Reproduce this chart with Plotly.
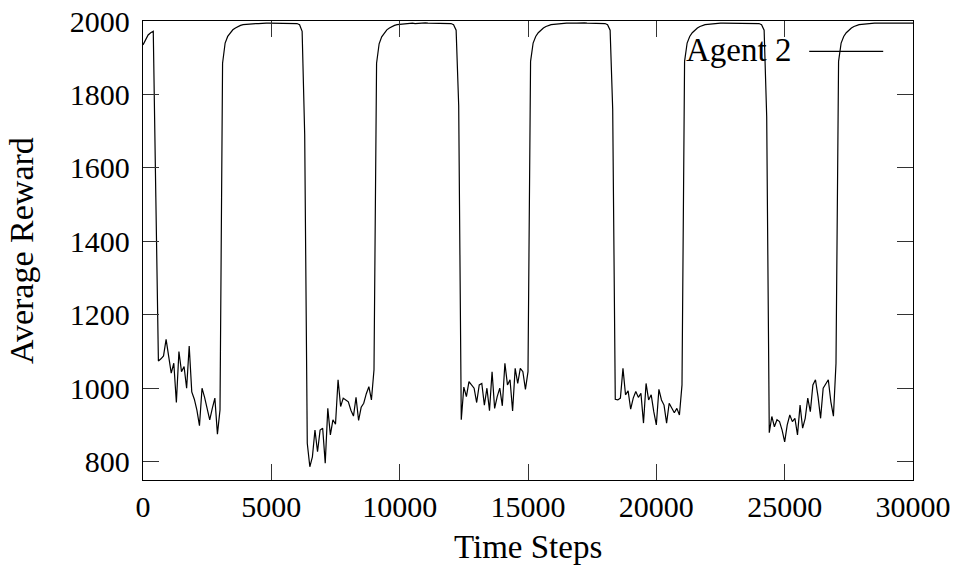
import plotly.graph_objects as go

# Time steps (sampled every 100 steps)
time_steps = list(range(0, 30001, 100))

# Average reward of Agent 2
seg_start = [1935, 1950, 1962, 1968, 1972, 1520]
low_1 = [1074, 1080, 1088, 1133, 1090, 1041, 1068, 961, 1100, 1045, 1059, 1000,
         1115, 990, 970, 940, 898, 1000, 975, 940, 914, 945, 973, 875, 941]
high_1 = [1885, 1940, 1958, 1968, 1976, 1981, 1985, 1988, 1990, 1991, 1992, 1992,
          1993, 1993, 1993, 1994, 1993, 1994, 1994, 1994, 1994, 1995, 1994, 1994,
          1995, 1994, 1995, 1994, 1994, 1993, 1990, 1972, 1690]
low_2 = [850, 786, 813, 886, 827, 886, 891, 796, 945, 873, 914, 902, 1023, 950,
         973, 968, 963, 940, 924, 975, 912, 948, 959, 985, 1004, 968, 1050]
high_2 = [1885, 1938, 1957, 1968, 1976, 1981, 1985, 1988, 1990, 1991, 1992, 1992,
          1993, 1993, 1994, 1993, 1994, 1994, 1994, 1995, 1994, 1994, 1995, 1994,
          1994, 1995, 1994, 1994, 1994, 1993, 1990, 1975, 1770]
low_3 = [914, 1003, 977, 1018, 1009, 1000, 961, 1009, 1013, 954, 1000, 939, 1045,
         945, 977, 1000, 952, 1068, 1009, 1023, 938, 1054, 1013, 1054, 1045, 997, 1045]
high_3 = [1890, 1940, 1958, 1968, 1976, 1981, 1985, 1988, 1990, 1991, 1992, 1992,
          1993, 1993, 1994, 1994, 1993, 1994, 1994, 1995, 1994, 1995, 1994, 1994,
          1995, 1994, 1994, 1995, 1994, 1993, 1990, 1975, 1760]
low_4 = [970, 968, 973, 1054, 982, 993, 943, 973, 991, 975, 986, 905, 1013, 968,
         982, 936, 900, 997, 968, 954, 905, 959, 945, 933, 945, 927, 1009]
high_4 = [1890, 1940, 1958, 1968, 1976, 1981, 1985, 1988, 1990, 1991, 1992, 1993,
          1993, 1993, 1994, 1994, 1994, 1995, 1994, 1994, 1995, 1995, 1994, 1994,
          1995, 1994, 1995, 1994, 1994, 1993, 1990, 1975, 1740]
low_5 = [879, 923, 895, 914, 909, 886, 854, 900, 927, 909, 918, 873, 954, 891, 918,
         973, 936, 1009, 1023, 977, 918, 1000, 1013, 1023, 963, 924, 1068]
high_5 = [1890, 1940, 1958, 1968, 1976, 1981, 1985, 1988, 1990, 1991, 1992, 1992,
          1993, 1993, 1994, 1994, 1994, 1994, 1995, 1994, 1994, 1995, 1994, 1995,
          1994, 1994, 1995, 1994, 1994, 1994]

avg_reward = (seg_start + low_1 + high_1 + low_2 + high_2 + low_3 + high_3
              + low_4 + high_4 + low_5 + high_5)

x_ticks = [0, 5000, 10000, 15000, 20000, 25000, 30000]
y_ticks = [800, 1000, 1200, 1400, 1600, 1800, 2000]
series_name = "Agent 2"
x_title = "Time Steps"
y_title = "Average Reward"

FONT = "Liberation Serif"

fig = go.Figure()
fig.add_trace(go.Scatter(
    x=time_steps[:len(avg_reward)], y=avg_reward, mode="lines",
    name=series_name, line=dict(color="black", width=1.2),
    showlegend=False,
))

axis_common = dict(
    showline=True, linecolor="black", linewidth=1.3, mirror="ticks",
    ticks="inside", ticklen=16, tickwidth=1, tickcolor="#333333",
    showgrid=False, zeroline=False, automargin=False,
    ticklabeloverflow="allow",
    tickfont=dict(family=FONT, size=30, color="black"),
)

fig.update_xaxes(range=[0, 30000], tickvals=x_ticks,
                 ticktext=[str(v) for v in x_ticks], ticklabelstandoff=0,
                 **axis_common)
fig.update_yaxes(range=[750, 2000], tickvals=y_ticks,
                 ticktext=[str(v) for v in y_ticks], ticklabelstandoff=6,
                 **axis_common)

# Axis titles
fig.add_annotation(xref="paper", yref="paper", x=0.5, y=-0.146,
                   text=x_title, showarrow=False, xanchor="center", yanchor="middle",
                   font=dict(family=FONT, size=33, color="black"))
fig.add_annotation(xref="paper", yref="paper", x=-0.1577, y=0.5,
                   text=y_title, showarrow=False, textangle=-90,
                   xanchor="center", yanchor="middle",
                   font=dict(family=FONT, size=34, color="black"))

# Legend (gnuplot style: text then line sample)
fig.add_annotation(xref="paper", yref="paper", x=0.8444, y=0.9374,
                   text=series_name, showarrow=False, xanchor="right", yanchor="middle",
                   font=dict(family=FONT, size=33, color="black"))
fig.add_shape(type="line", xref="paper", yref="paper", x0=0.8652, x1=0.9613,
              y0=0.9337, y1=0.9337, line=dict(color="black", width=1.2))

fig.update_layout(
    width=961, height=567,
    margin=dict(l=143, r=48, t=21, b=87),
    paper_bgcolor="white", plot_bgcolor="white",
    font=dict(family=FONT, color="black"),
)

# Remove the default 8px page margin so the figure fills the window exactly.
fig.write_html("out.html",
               config={"displayModeBar": False},
               post_script="document.body.style.margin='0';")
